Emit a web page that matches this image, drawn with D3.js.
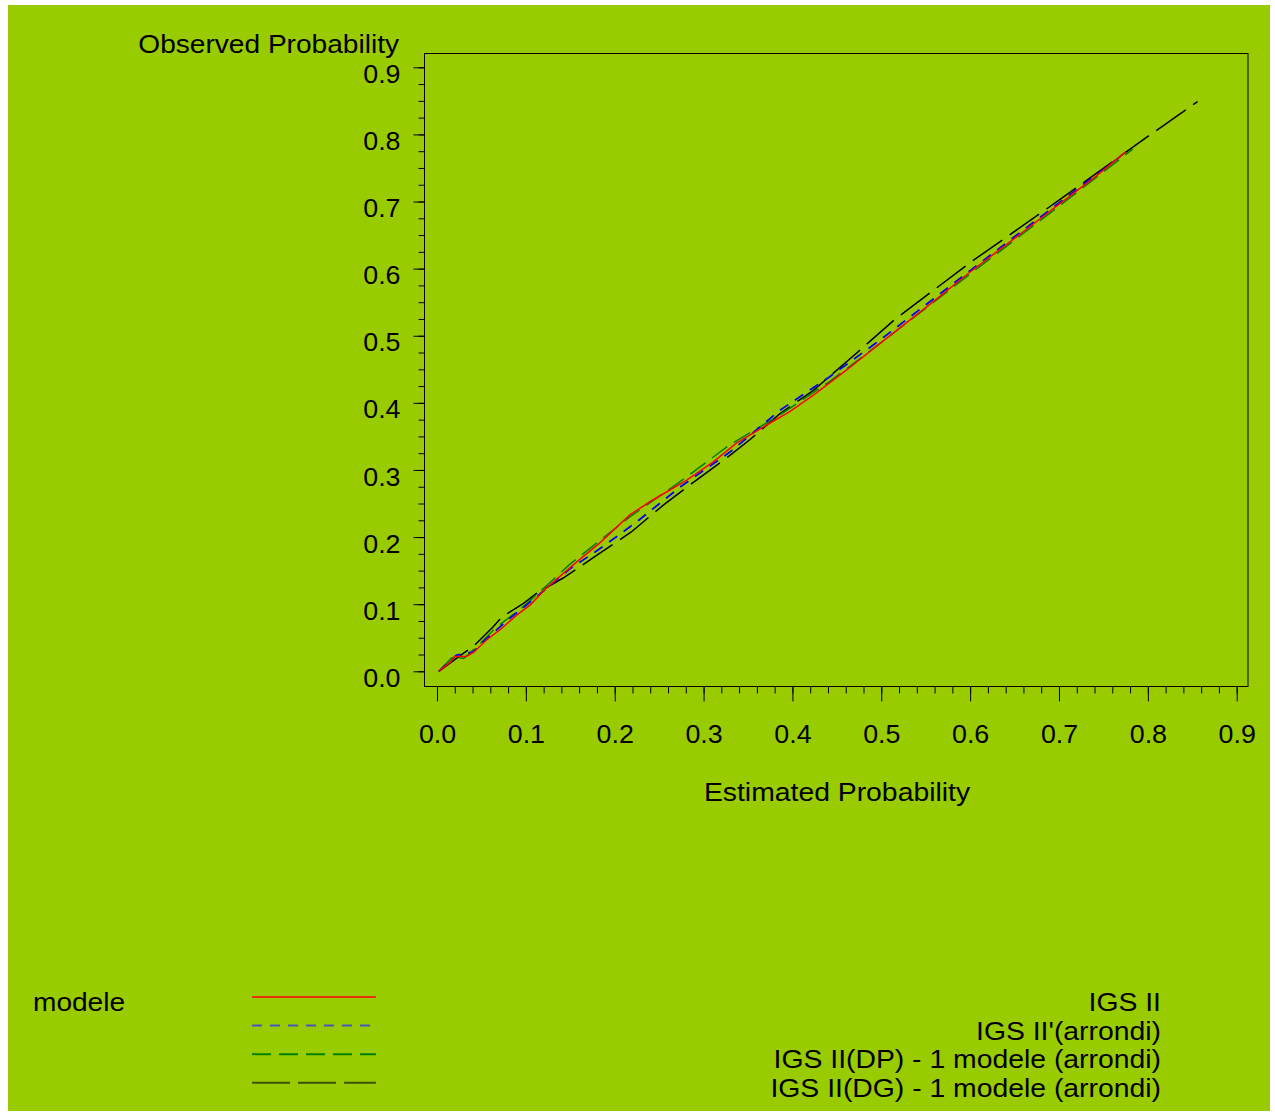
<!DOCTYPE html>
<html>
<head>
<meta charset="utf-8">
<script src="https://cdn.jsdelivr.net/npm/d3@7"></script>
<style>
  body { margin: 0; background: #fff; }
  svg { display: block; font-family: 'Liberation Sans', Arial, sans-serif; }
</style>
</head>
<body>
<svg id="chart" width="1275" height="1116"></svg>
<script>
// calibration curves, [estimated, observed]
let igsII = [[0.002,0.000],[0.015,0.014],[0.020,0.022],[0.033,0.022],[0.041,0.028],[0.056,0.047],[0.071,0.062],[0.090,0.084],
  [0.105,0.099],[0.123,0.124],[0.138,0.141],[0.160,0.166],[0.183,0.191],[0.217,0.233],[0.240,0.253],[0.281,0.285],
  [0.311,0.312],[0.337,0.340],[0.371,0.367],[0.397,0.387],[0.424,0.412],[0.461,0.449],[0.499,0.489],[0.550,0.542],
  [0.600,0.595],[0.650,0.645],[0.701,0.697],[0.740,0.736],[0.775,0.774]];
let igsIIArrondi = [[0.002,0.000],[0.022,0.024],[0.041,0.029],[0.056,0.049],[0.082,0.079],[0.101,0.099],[0.150,0.153],
  [0.187,0.186],[0.225,0.223],[0.274,0.275],[0.330,0.327],[0.386,0.389],[0.442,0.439],[0.499,0.494],[0.600,0.597],
  [0.700,0.698],[0.770,0.768]];
let igsIIDP = [[0.002,0.000],[0.018,0.022],[0.030,0.019],[0.045,0.037],[0.067,0.066],[0.097,0.096],[0.150,0.160],
  [0.217,0.230],[0.274,0.283],[0.330,0.338],[0.386,0.382],[0.442,0.432],[0.499,0.489],[0.600,0.592],[0.700,0.693],
  [0.783,0.778]];
let igsIIDG = [[0.002,0.000],[0.030,0.027],[0.041,0.037],[0.063,0.066],[0.073,0.081],[0.097,0.101],[0.112,0.116],
  [0.142,0.139],[0.180,0.173],[0.219,0.208],[0.255,0.248],[0.292,0.285],[0.330,0.322],[0.352,0.345],[0.386,0.384],
  [0.424,0.419],[0.472,0.474],[0.515,0.524],[0.600,0.609],[0.700,0.702],[0.800,0.797],[0.856,0.849]];

let seriesNames = ['IGS II', "IGS II'(arrondi)", 'IGS II(DP) - 1 modele (arrondi)', 'IGS II(DG) - 1 modele (arrondi)'];
let majorTicks = [0, 0.1, 0.2, 0.3, 0.4, 0.5, 0.6, 0.7, 0.8, 0.9];
let xMinorTicks = d3.range(0, 46).map(function(i) { return i * 0.02; });
let yMinorTicks = d3.range(0, 37).map(function(i) { return i * 0.025; });

let svg = d3.select('#chart');
let fontSize = 26;

// the original font is a bit wider than Liberation Sans
function widen(sel, k) {
  sel.each(function() {
    let w = this.getComputedTextLength();
    d3.select(this).attr('textLength', w * k).attr('lengthAdjust', 'spacingAndGlyphs');
  });
}

svg.append('rect')
  .attr('x', 8).attr('y', 5)
  .attr('width', 1262).attr('height', 1106)
  .attr('fill', '#99cc00');

let x = d3.scaleLinear().domain([0, 0.9]).range([437, 1236.7]);
let y = d3.scaleLinear().domain([0, 0.9]).range([671.3, 67.3]);

// frame
svg.append('rect')
  .attr('x', 424.5).attr('y', 53.5)
  .attr('width', 823.5).attr('height', 633)
  .attr('fill', 'none').attr('stroke', '#000').attr('stroke-width', 1);

// y axis
let yAxis = svg.append('g')
  .attr('transform', 'translate(424.5,0)')
  .call(d3.axisLeft(y).tickValues(majorTicks).tickSize(11).tickPadding(13).tickFormat(d3.format('.1f')));
yAxis.select('.domain').remove();
yAxis.selectAll('text').attr('dy', '0.58em').attr('font-size', fontSize).attr('font-family', null).attr('fill', '#000');
widen(yAxis.selectAll('text'), 1.03);
let yMinor = svg.append('g')
  .attr('transform', 'translate(424.5,0)')
  .call(d3.axisLeft(y).tickValues(yMinorTicks).tickSize(6).tickFormat(''));
yMinor.select('.domain').remove();

// x axis
let xAxis = svg.append('g')
  .attr('transform', 'translate(0,686.5)')
  .call(d3.axisBottom(x).tickValues(majorTicks).tickSize(15).tickPadding(23).tickFormat(d3.format('.1f')));
xAxis.select('.domain').remove();
xAxis.selectAll('text').attr('font-size', fontSize).attr('font-family', null).attr('fill', '#000');
widen(xAxis.selectAll('text'), 1.03);
let xMinor = svg.append('g')
  .attr('transform', 'translate(0,686.5)')
  .call(d3.axisBottom(x).tickValues(xMinorTicks).tickSize(7).tickFormat(''));
xMinor.select('.domain').remove();

svg.selectAll('.tick line').attr('stroke', '#000');

// axis titles
let yTitle = svg.append('text')
  .attr('x', 399).attr('y', 53)
  .attr('text-anchor', 'end')
  .attr('font-size', fontSize)
  .text('Observed Probability');
widen(yTitle, 1.08);

let xTitle = svg.append('text')
  .attr('x', 837).attr('y', 801)
  .attr('text-anchor', 'middle')
  .attr('font-size', fontSize)
  .text('Estimated Probability');
widen(xTitle, 1.09);

// curves
let styles = [
  {data: igsII, color: '#ff0000', dash: null, width: 1.5},
  {data: igsIIArrondi, color: '#0000ff', dash: '10,8', width: 1.8},
  {data: igsIIDP, color: '#008000', dash: '19,8', width: 1.5},
  {data: igsIIDG, color: '#000000', dash: '36,9', width: 1.5}
];

let line = d3.line()
  .x(function(d) { return x(d[0]); })
  .y(function(d) { return y(d[1]); });

[3, 2, 1, 0].forEach(function(i) {
  let s = styles[i];
  svg.append('path')
    .datum(s.data)
    .attr('d', line)
    .attr('fill', 'none')
    .attr('stroke', s.color)
    .attr('stroke-width', s.width)
    .attr('stroke-dasharray', s.dash);
});

// legend
let legendTitle = svg.append('text')
  .attr('x', 33).attr('y', 1011)
  .attr('font-size', fontSize)
  .text('modele');
widen(legendTitle, 1.08);

let legendY = d3.scaleLinear().domain([0, 3]).range([997, 1082.7]);
let legendColors = ['#ff0000', '#4656c0', '#008000', '#3c5000'];

styles.forEach(function(s, i) {
  svg.append('line')
    .attr('x1', 252).attr('x2', 376)
    .attr('y1', legendY(i)).attr('y2', legendY(i))
    .attr('stroke', legendColors[i])
    .attr('stroke-width', i === 0 ? 1.5 : 2)
    .attr('stroke-dasharray', s.dash === '36,9' ? '38,8' : s.dash);
  let t = svg.append('text')
    .attr('x', 1161).attr('y', legendY(i) + 14)
    .attr('text-anchor', 'end')
    .attr('font-size', fontSize)
    .text(seriesNames[i]);
  widen(t, 1.09);
});
</script>
</body>
</html>
